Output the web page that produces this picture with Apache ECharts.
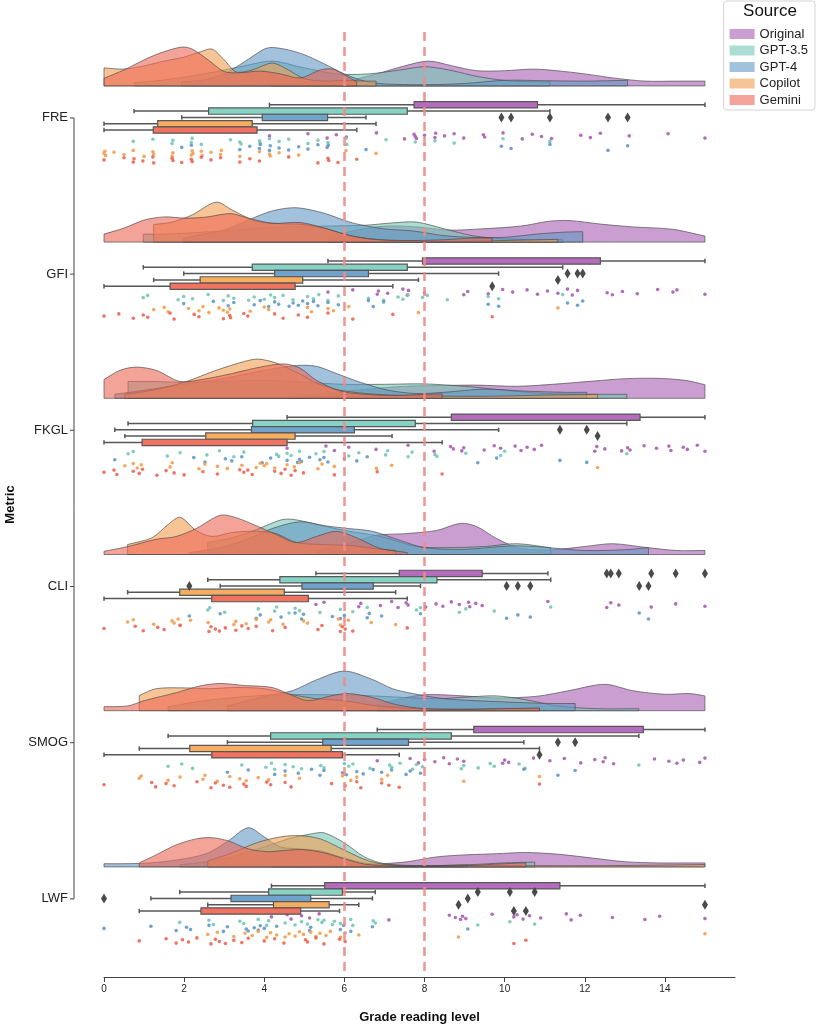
<!DOCTYPE html>
<html>
<head>
<meta charset="utf-8">
<title>Grade reading level by metric and source</title>
<script src="https://cdn.jsdelivr.net/npm/echarts@6.0.0/dist/echarts.min.js"></script>
<style>
  html, body { margin: 0; padding: 0; background: #fff; }
  #chart { width: 818px; height: 1024px; }
</style>
</head>
<body>
<div id="chart"></div>
<script>
const metrics = ['FRE', 'GFI', 'FKGL', 'CLI', 'SMOG', 'LWF'];
const sources = ['Original', 'GPT-3.5', 'GPT-4', 'Copilot', 'Gemini'];
const xTicks = [0, 2, 4, 6, 8, 10, 12, 14];
const refLines = [6, 8];

// box stats, one row per metric: [low whisker, q1, q3, high whisker]
const boxOriginal = [[4.13, 7.74, 10.82, 15], [5.59, 7.95, 12.39, 15], [4.57, 8.67, 13.38, 15], [5.29, 7.37, 9.44, 11.08], [6.82, 9.23, 13.46, 15], [4.18, 5.51, 11.38, 15]];
const boxGpt35 = [[0.75, 2.61, 7.57, 11.13], [0.98, 3.70, 7.57, 11.45], [0.6, 3.71, 7.77, 13.05], [2.59, 4.39, 8.31, 11.15], [1.6, 4.16, 8.67, 13.35], [1.89, 4.11, 5.95, 6.77]];
const boxGpt4 = [[1.94, 3.95, 5.58, 6.54], [1.99, 4.26, 6.6, 9.85], [0.27, 3.68, 6.25, 9.85], [2.9, 4.94, 6.72, 7.9], [3.08, 5.46, 7.6, 10.48], [1.17, 3.17, 5.16, 6.7]];
const boxCopilot = [[0, 1.34, 3.70, 6.79], [1.24, 2.4, 4.96, 7.85], [0.52, 2.54, 4.77, 7.19], [0.59, 1.89, 4.5, 7.28], [0.88, 2.14, 5.67, 10.87], [2.59, 4.23, 5.62, 6.36]];
const boxGemini = [[0, 1.23, 3.82, 6.31], [0, 1.65, 4.77, 7.21], [0, 0.95, 4.57, 8.44], [0, 2.69, 5.1, 7.57], [0, 2.69, 5.95, 7.37], [0.88, 2.42, 4.91, 5.88]];

// outliers, one list per metric
const outOriginal = [[], [], [], [12.55, 12.65, 12.85, 13.66, 14.27, 15], [], []];
const outGpt35 = [[], [], [], [], [], [9.33, 10.13, 10.75]];
const outGpt4 = [[9.92, 10.16, 11.13, 12.58, 13.07], [11.57, 11.82, 11.95], [11.38, 12.05], [2.13, 10.05, 10.33, 10.64, 13.36, 13.59], [11.33, 11.76], [0, 9.08]];
const outCopilot = [[], [11.33], [12.32], [], [], [8.85, 15]];
const outGemini = [[], [9.69], [], [], [10.87], [10.23, 10.53]];

// individual scores (rain), one list per metric
const ptsOriginal = [
  [4.13, 5.09, 5.57, 5.8, 6.05, 6.8, 7.5, 7.74, 7.77, 7.8, 8.0, 8.26, 8.28, 8.5, 8.74, 8.98, 9.47, 9.5, 9.96, 10.44, 10.69, 10.92, 11.17, 11.9, 12.14, 12.39, 13.11, 14.08, 15],
  [5.59, 6.21, 6.82, 6.85, 7.08, 7.46, 7.57, 7.6, 8.0, 8.98, 9.08, 9.59, 9.95, 10.2, 10.56, 10.82, 11.07, 11.33, 11.57, 11.69, 11.82, 12.56, 12.69, 12.94, 13.31, 13.82, 14.2, 14.3, 15],
  [4.57, 5.54, 5.75, 6.11, 6.79, 7.59, 8.24, 8.65, 8.72, 8.93, 8.98, 9.49, 9.74, 9.9, 10.26, 10.41, 10.56, 10.74, 10.92, 12.25, 12.3, 12.5, 12.92, 13.07, 13.13, 13.48, 13.79, 14.1, 14.15, 14.46, 14.56, 14.81, 15],
  [5.29, 5.49, 6.36, 6.41, 6.9, 7.18, 7.34, 7.54, 7.59, 8.03, 8.29, 8.46, 8.67, 8.87, 9.1, 9.13, 9.28, 9.44, 11.08, 12.55, 12.65, 12.85, 13.66, 14.27, 15],
  [6.82, 7.64, 7.85, 8.0, 8.26, 8.48, 8.62, 8.82, 8.98, 9.95, 10.0, 10.1, 10.72, 11.13, 11.49, 11.9, 12.25, 12.46, 12.51, 12.72, 13.74, 14.1, 14.3, 14.46, 14.87, 15],
  [4.18, 4.57, 4.67, 4.93, 5.13, 5.37, 7.11, 8.62, 8.77, 8.9, 8.95, 9.03, 9.69, 10.23, 10.31, 10.46, 10.62, 10.9, 11.54, 11.66, 11.89, 12.69, 13.5, 13.87, 15]
];
const ptsGpt35 = [
  [0.73, 1.22, 1.7, 1.72, 2.18, 2.2, 2.43, 3.16, 3.39, 3.42, 3.88, 3.9, 4.13, 4.37, 4.61, 5.09, 5.34, 5.59, 6.04, 6.06, 7.04, 7.77, 8.0, 8.26, 8.74, 9.96, 11.13],
  [0.98, 1.09, 1.85, 1.99, 2.21, 2.6, 2.98, 3.1, 3.24, 3.61, 3.75, 4.0, 4.16, 4.26, 4.47, 4.72, 5.08, 5.23, 5.36, 5.59, 5.85, 6.6, 6.98, 7.34, 7.46, 7.59, 7.95, 8.07, 8.57, 9.59, 9.85, 11.45],
  [0.6, 0.73, 1.58, 1.9, 2.57, 2.88, 3.24, 3.49, 4.31, 4.36, 4.57, 4.67, 4.88, 5.29, 5.49, 6.11, 6.36, 7.03, 7.08, 7.59, 7.69, 8.26, 8.31, 9.03, 9.9, 10.0, 13.05],
  [2.59, 2.64, 3.01, 3.85, 4.26, 4.31, 4.62, 4.77, 4.88, 5.39, 5.9, 6.21, 6.57, 7.8, 7.9, 8.87, 9.03, 9.74, 11.15],
  [1.6, 1.94, 2.21, 3.44, 4.04, 4.18, 4.26, 4.52, 4.72, 4.93, 5.41, 5.49, 6.0, 6.11, 6.21, 6.64, 7.13, 7.18, 7.39, 7.7, 7.8, 7.95, 8.92, 8.98, 9.34, 9.64, 9.74, 10.36, 10.51, 13.35],
  [1.89, 2.62, 2.73, 3.39, 3.49, 3.85, 4.06, 4.11, 4.52, 4.77, 4.93, 5.08, 5.34, 5.44, 5.49, 5.7, 5.75, 5.9, 6.16, 6.21, 6.72, 6.77, 9.33, 10.13, 10.75]
];
const ptsGpt4 = [
  [1.94, 2.18, 3.39, 3.64, 3.88, 3.9, 4.13, 4.15, 4.37, 4.61, 4.86, 5.09, 5.34, 5.57, 5.6, 6.54, 9.92, 10.16, 11.13, 12.58, 13.07],
  [1.99, 2.73, 3.1, 3.24, 3.75, 3.9, 4.11, 4.26, 4.36, 4.62, 4.72, 4.85, 4.96, 5.08, 5.23, 5.34, 5.59, 5.85, 6.6, 6.72, 6.98, 9.59, 9.85, 11.57, 11.82, 11.95],
  [0.27, 2.24, 2.52, 3.03, 3.19, 3.44, 3.95, 4.16, 4.57, 4.83, 4.88, 4.93, 5.13, 5.39, 5.49, 5.59, 6.0, 6.31, 6.57, 9.33, 9.8, 11.38, 12.05],
  [2.13, 2.9, 3.8, 3.9, 4.42, 4.77, 4.93, 4.98, 5.7, 5.9, 6.0, 6.57, 6.62, 6.93, 7.9, 10.05, 10.33, 10.64, 13.36, 13.59],
  [3.08, 3.6, 4.26, 4.52, 4.85, 5.18, 5.39, 5.49, 5.95, 6.05, 6.31, 6.47, 6.72, 6.93, 7.18, 7.54, 7.64, 7.9, 10.48, 11.33, 11.76],
  [0, 1.17, 1.8, 2.06, 2.16, 2.62, 2.98, 3.08, 3.55, 3.6, 3.75, 3.85, 3.9, 4.0, 4.31, 5.13, 5.16, 5.9, 5.98, 6.16, 6.7, 9.08]
];
const ptsCopilot = [
  [0, 0.02, 0.04, 0.25, 0.5, 0.73, 1.0, 1.22, 1.24, 1.7, 1.72, 2.18, 2.2, 2.22, 2.43, 2.45, 2.67, 2.91, 2.93, 3.39, 3.88, 4.13, 4.15, 4.37, 4.86, 6.04, 6.79],
  [1.24, 1.5, 1.6, 2.11, 2.37, 2.47, 2.62, 2.87, 2.98, 3.08, 3.14, 3.65, 4.0, 4.11, 5.08, 5.18, 5.59, 5.73, 6.11, 7.85, 11.33],
  [0.52, 0.73, 0.83, 0.93, 1.65, 1.7, 2.37, 2.52, 2.83, 3.08, 3.44, 3.8, 3.9, 4.0, 4.06, 4.26, 4.57, 4.75, 4.88, 5.34, 5.44, 5.75, 6.8, 7.18, 12.32],
  [0.59, 0.73, 1.24, 1.7, 1.75, 1.85, 1.9, 2.16, 2.6, 3.24, 3.29, 3.55, 3.8, 4.11, 4.16, 4.47, 4.98, 5.08, 5.85, 5.9, 6.1, 6.67, 7.28],
  [0.88, 0.93, 1.6, 1.9, 2.47, 2.52, 2.83, 3.14, 3.39, 3.55, 3.85, 4.11, 4.52, 4.88, 5.95, 6.16, 6.31, 6.93, 7.08, 8.98, 10.87],
  [2.59, 2.83, 3.24, 3.52, 3.7, 3.85, 4.06, 4.16, 4.31, 4.52, 4.62, 4.77, 4.88, 4.98, 5.16, 5.29, 5.39, 5.54, 5.65, 5.9, 6.02, 6.36, 8.85, 15]
];
const ptsGemini = [
  [0, 0.5, 0.73, 0.75, 0.97, 1.22, 1.24, 1.7, 1.72, 1.94, 2.18, 2.2, 2.43, 2.67, 2.91, 3.39, 3.64, 3.88, 4.61, 5.34, 5.59, 5.61, 5.84, 6.31],
  [0, 0.37, 0.73, 0.98, 1.09, 1.65, 1.75, 2.25, 2.37, 2.98, 3.14, 3.16, 3.49, 3.59, 4.26, 4.47, 4.85, 5.08, 5.59, 6.21, 7.21, 9.69],
  [0, 0.25, 0.32, 0.73, 0.88, 0.96, 1.32, 1.55, 1.75, 2.0, 2.47, 2.83, 3.39, 3.49, 3.59, 3.7, 4.26, 4.42, 4.52, 4.67, 4.77, 4.98, 5.75, 6.82, 8.44],
  [0, 0.78, 0.98, 1.34, 1.5, 1.9, 2.62, 2.67, 2.78, 2.88, 3.03, 3.29, 3.44, 3.6, 3.8, 4.21, 4.52, 5.34, 5.44, 5.9, 5.95, 6.02, 6.21, 7.57],
  [0, 1.19, 1.29, 1.55, 1.75, 2.32, 2.67, 2.78, 2.98, 3.14, 3.49, 3.55, 4.06, 4.16, 4.52, 4.67, 5.68, 6.02, 6.31, 6.41, 6.93, 7.11, 7.37, 10.87],
  [0.88, 1.55, 1.8, 1.96, 2.11, 2.32, 2.67, 2.78, 2.88, 3.03, 3.24, 3.44, 3.6, 4.0, 4.26, 4.49, 5.03, 5.08, 5.29, 5.49, 5.88, 6.02, 10.23, 10.53]
];

// density outline (cloud), one list per metric: [grade, relative density]
const kdeOriginal = [
  [[4.13, 0.05], [5, 0.08], [6, 0.12], [6.8, 0.3], [7.5, 0.5], [8.1, 0.62], [8.7, 0.5], [9.3, 0.38], [10, 0.38], [10.7, 0.42], [11.3, 0.38], [12, 0.3], [12.7, 0.2], [13.5, 0.12], [14.3, 0.12], [15, 0.12]],
  [[5.59, 0.12], [6.2, 0.28], [7.0, 0.4], [7.8, 0.38], [8.6, 0.3], [9.4, 0.33], [10.4, 0.4], [11.1, 0.52], [11.6, 0.54], [12.4, 0.45], [13.2, 0.38], [14.2, 0.32], [15, 0.15]],
  [[4.57, 0.05], [5.5, 0.12], [6.5, 0.22], [7.5, 0.3], [8.5, 0.32], [9.3, 0.33], [10.3, 0.3], [11.2, 0.35], [12.2, 0.43], [13.0, 0.49], [13.8, 0.5], [14.5, 0.45], [15, 0.34]],
  [[5.29, 0.1], [6.0, 0.25], [6.8, 0.48], [7.5, 0.52], [8.3, 0.6], [8.9, 0.78], [9.3, 0.7], [9.8, 0.4], [10.4, 0.15], [11.2, 0.12], [12.0, 0.2], [12.7, 0.27], [13.5, 0.18], [14.3, 0.1], [15, 0.1]],
  [[6.82, 0.15], [7.4, 0.3], [8.0, 0.4], [8.8, 0.38], [9.8, 0.32], [10.8, 0.36], [11.6, 0.5], [12.5, 0.66], [13.2, 0.5], [14.0, 0.41], [14.6, 0.43], [15, 0.37]],
  [[4.18, 0.02], [5.5, 0.04], [6.5, 0.06], [7.5, 0.12], [8.3, 0.25], [9.0, 0.3], [9.8, 0.33], [10.5, 0.36], [11.3, 0.32], [12.2, 0.22], [13.0, 0.13], [13.8, 0.1], [14.5, 0.1], [15, 0.1]]
];
const kdeGpt35 = [
  [[0.75, 0.08], [1.5, 0.15], [2.5, 0.3], [3.5, 0.5], [4.2, 0.62], [5.0, 0.45], [5.8, 0.3], [6.6, 0.3], [7.4, 0.4], [8.0, 0.48], [8.6, 0.4], [9.4, 0.22], [10.2, 0.12], [11.13, 0.1]],
  [[0.98, 0.2], [1.5, 0.2], [2.5, 0.25], [3.5, 0.32], [4.5, 0.38], [5.5, 0.4], [6.5, 0.42], [7.2, 0.48], [7.8, 0.5], [8.5, 0.33], [9.2, 0.16], [10, 0.08], [10.8, 0.06], [11.45, 0.06]],
  [[0.6, 0.42], [1.2, 0.42], [2.0, 0.4], [3.0, 0.42], [4.0, 0.45], [5.0, 0.4], [6.0, 0.35], [7.0, 0.35], [8.0, 0.36], [9.0, 0.3], [10, 0.2], [11, 0.12], [12, 0.1], [13.05, 0.1]],
  [[2.59, 0.3], [3.2, 0.42], [3.8, 0.62], [4.4, 0.86], [4.7, 0.88], [5.2, 0.78], [5.9, 0.62], [6.9, 0.45], [7.8, 0.2], [8.5, 0.17], [9.5, 0.2], [10.3, 0.27], [11.15, 0.17]],
  [[1.6, 0.1], [2.5, 0.25], [3.5, 0.35], [4.5, 0.4], [5.5, 0.4], [6.5, 0.38], [7.5, 0.33], [8.3, 0.3], [9.2, 0.35], [9.8, 0.37], [10.5, 0.28], [11.3, 0.12], [12.3, 0.05], [13.35, 0.05]],
  [[1.89, 0.05], [2.5, 0.12], [3.2, 0.25], [4.0, 0.5], [4.6, 0.7], [5.2, 0.83], [5.5, 0.85], [6.0, 0.6], [6.5, 0.25], [7.0, 0.08], [8.0, 0.03], [9.0, 0.05], [10.0, 0.1], [10.75, 0.12]]
];
const kdeGpt4 = [
  [[1.94, 0.1], [2.5, 0.15], [3.0, 0.3], [3.5, 0.6], [4.0, 0.92], [4.2, 0.96], [4.6, 0.9], [5.0, 0.78], [5.5, 0.55], [6.0, 0.3], [6.5, 0.12], [7.0, 0.05], [8, 0.03], [9, 0.06], [10, 0.14], [11, 0.13], [12, 0.12], [13.07, 0.14]],
  [[1.99, 0.1], [2.5, 0.2], [3.0, 0.3], [3.6, 0.55], [4.2, 0.78], [4.8, 0.86], [5.5, 0.72], [6.2, 0.48], [7.0, 0.33], [7.7, 0.28], [8.5, 0.16], [9.2, 0.12], [10, 0.12], [10.8, 0.2], [11.5, 0.25], [11.95, 0.26]],
  [[0.27, 0.1], [1.0, 0.2], [2.0, 0.35], [3.0, 0.5], [4.0, 0.7], [4.8, 0.82], [5.3, 0.8], [5.8, 0.62], [6.4, 0.4], [7.1, 0.2], [7.8, 0.12], [8.5, 0.15], [9.5, 0.23], [10.5, 0.18], [11.5, 0.15], [12.05, 0.15]],
  [[2.13, 0.05], [2.8, 0.15], [3.5, 0.35], [4.2, 0.65], [4.9, 0.82], [5.5, 0.72], [6.1, 0.65], [6.7, 0.58], [7.4, 0.35], [8.0, 0.17], [9.0, 0.13], [10.2, 0.22], [11.0, 0.18], [12.0, 0.1], [13.0, 0.12], [13.59, 0.17]],
  [[3.08, 0.12], [3.6, 0.25], [4.1, 0.38], [4.7, 0.5], [5.3, 0.77], [6.0, 0.99], [6.7, 0.78], [7.2, 0.55], [7.7, 0.43], [8.5, 0.3], [9.5, 0.24], [10.5, 0.2], [11.2, 0.18], [11.76, 0.18]],
  [[0, 0.08], [0.5, 0.08], [1.17, 0.1], [2.0, 0.2], [2.6, 0.35], [3.1, 0.65], [3.6, 0.98], [4.0, 0.75], [4.4, 0.5], [4.9, 0.45], [5.4, 0.4], [5.9, 0.25], [6.5, 0.1], [7.2, 0.04], [8.0, 0.03], [9.08, 0.05]]
];
const kdeCopilot = [
  [[0, 0.45], [0.5, 0.42], [1.0, 0.5], [1.5, 0.62], [2.0, 0.72], [2.4, 0.85], [2.7, 0.92], [3.0, 0.65], [3.3, 0.35], [3.7, 0.4], [4.2, 0.57], [4.6, 0.4], [5.0, 0.18], [5.5, 0.12], [6.0, 0.14], [6.5, 0.12], [6.79, 0.12]],
  [[1.24, 0.44], [1.7, 0.5], [2.2, 0.68], [2.8, 1.0], [3.2, 0.8], [3.8, 0.52], [4.4, 0.46], [5.0, 0.44], [5.6, 0.32], [6.2, 0.15], [7.0, 0.05], [8.0, 0.02], [9.0, 0.02], [10, 0.04], [11.33, 0.07]],
  [[0.52, 0.1], [1.2, 0.2], [2.0, 0.4], [2.8, 0.7], [3.5, 0.92], [3.85, 0.98], [4.3, 0.88], [4.9, 0.6], [5.3, 0.38], [5.9, 0.2], [6.8, 0.1], [8, 0.06], [9.5, 0.05], [11, 0.08], [12.32, 0.1]],
  [[0.59, 0.25], [1.2, 0.42], [1.6, 0.75], [1.9, 0.93], [2.3, 0.6], [2.7, 0.45], [3.2, 0.55], [3.8, 0.58], [4.3, 0.52], [4.8, 0.3], [5.4, 0.25], [6.2, 0.22], [6.8, 0.14], [7.28, 0.1]],
  [[0.88, 0.38], [1.3, 0.55], [2.0, 0.57], [2.6, 0.55], [3.3, 0.58], [4.0, 0.55], [4.7, 0.4], [5.3, 0.3], [6.0, 0.25], [6.8, 0.12], [7.8, 0.05], [9.0, 0.04], [10.0, 0.05], [10.87, 0.05]],
  [[2.59, 0.15], [3.2, 0.35], [3.8, 0.6], [4.4, 0.75], [4.9, 0.78], [5.4, 0.7], [6.0, 0.42], [6.6, 0.15], [7.2, 0.04], [8.0, 0.02], [9.0, 0.03], [10.5, 0.03], [12, 0.03], [13.5, 0.04], [15, 0.06]]
];
const kdeGemini = [
  [[0, 0.19], [0.5, 0.4], [1.0, 0.65], [1.4, 0.82], [1.94, 0.97], [2.2, 0.92], [2.6, 0.65], [3.0, 0.36], [3.4, 0.33], [3.9, 0.37], [4.4, 0.3], [4.9, 0.2], [5.4, 0.4], [5.7, 0.42], [6.0, 0.28], [6.31, 0.1]],
  [[0, 0.2], [0.5, 0.35], [1.0, 0.55], [1.5, 0.63], [2.0, 0.6], [2.5, 0.62], [3.0, 0.7], [3.2, 0.71], [3.6, 0.6], [4.2, 0.47], [4.9, 0.49], [5.5, 0.35], [6.0, 0.2], [6.6, 0.08], [7.5, 0.04], [8.5, 0.06], [9.2, 0.1], [9.69, 0.1]],
  [[0, 0.47], [0.4, 0.7], [0.8, 0.78], [1.3, 0.7], [1.9, 0.42], [2.5, 0.48], [3.2, 0.62], [3.9, 0.78], [4.5, 0.86], [4.9, 0.75], [5.3, 0.45], [5.9, 0.18], [6.5, 0.1], [7.2, 0.07], [8.0, 0.1], [8.44, 0.11]],
  [[0, 0.08], [0.6, 0.2], [1.3, 0.38], [1.8, 0.45], [2.3, 0.65], [2.9, 0.98], [3.3, 0.92], [3.8, 0.72], [4.3, 0.5], [4.8, 0.3], [5.3, 0.45], [5.8, 0.58], [6.3, 0.42], [6.9, 0.15], [7.57, 0.05]],
  [[0, 0.1], [0.6, 0.12], [1.0, 0.25], [1.8, 0.45], [2.4, 0.62], [2.9, 0.68], [3.5, 0.63], [4.2, 0.58], [4.7, 0.38], [5.1, 0.25], [5.7, 0.38], [6.1, 0.43], [6.7, 0.33], [7.3, 0.15], [8.0, 0.05], [9.0, 0.03], [10.0, 0.05], [10.87, 0.07]],
  [[0.88, 0.1], [1.3, 0.3], [1.8, 0.55], [2.3, 0.7], [2.7, 0.73], [3.1, 0.65], [3.6, 0.45], [4.1, 0.38], [4.6, 0.42], [5.0, 0.43], [5.5, 0.35], [6.0, 0.2], [6.5, 0.07], [7.2, 0.02], [8, 0.01], [9, 0.03], [10, 0.08], [10.53, 0.1]]
];

const boxes = [boxOriginal, boxGpt35, boxGpt4, boxCopilot, boxGemini];
const outliers = [outOriginal, outGpt35, outGpt4, outCopilot, outGemini];
const points = [ptsOriginal, ptsGpt35, ptsGpt4, ptsCopilot, ptsGemini];
const kdes = [kdeOriginal, kdeGpt35, kdeGpt4, kdeCopilot, kdeGemini];

// look
const colors = ['#a75eb1', '#74c6b6', '#6298c5', '#f29f4f', '#ec6555'];
const boxColors = ['#b56cbc', '#86d2c4', '#70a3cc', '#f7ad60', '#f07260'];
const FONT = '"Liberation Sans", Arial, sans-serif';
const VIOLIN_H = 40;      // px for relative density 1
const VIOLIN_GAP = 32;    // px from metric line up to cloud baseline
const BOX_H = 6.3;
const BOX_STEP = 6.3;
const STRIP_OFF = [18, 23.5, 29.5, 35.5, 42];
const JITTER = [0, -2.2, 2.2, -1.1, 1.1, -3, 3, -1.7, 0.6, 2.6, -0.6, 1.7, -2.6];
const SPINE_OFFSET = 30;
const EDGE = '#575757';

function fade(hex, a) {
  const n = parseInt(hex.slice(1), 16);
  return `rgba(${n >> 16},${(n >> 8) & 255},${n & 255},${a})`;
}

function violinSeries(si) {
  const prof = kdes[si];
  return {
    type: 'custom', name: sources[si], z: 2, silent: true,
    data: metrics.map((m, mi) => [prof[mi][0][0], mi]),
    renderItem(params, api) {
      const mi = params.dataIndex;
      const base = api.coord([0, mi])[1] - VIOLIN_GAP;
      const top = prof[mi].map(p => [api.coord([p[0], mi])[0], base - p[1] * VIOLIN_H]);
      const a = top[0], b = top[top.length - 1];
      const poly = [[a[0], base], [a[0], base], a, a]
        .concat(top.slice(1, -1))
        .concat([b, b, [b[0], base], [b[0], base]]);
      return {
        type: 'polygon',
        shape: { points: poly, smooth: 0.3 },
        style: { fill: fade(colors[si], 0.6), stroke: 'rgba(75,75,75,0.75)', lineWidth: 0.9 }
      };
    }
  };
}

function boxSeries(si) {
  return {
    type: 'custom', name: sources[si], z: 4, silent: true,
    data: boxes[si].map((b, mi) => [mi].concat(b)),
    renderItem(params, api) {
      const mi = api.value(0);
      const yc = api.coord([0, mi])[1] + (si - 2) * BOX_STEP - 0.5;
      const x = [1, 2, 3, 4].map(d => api.coord([api.value(d), mi])[0]);
      const line = { stroke: EDGE, lineWidth: 1.5 };
      return {
        type: 'group',
        children: [
          { type: 'line', shape: { x1: x[0], y1: yc, x2: x[3], y2: yc }, style: line },
          { type: 'line', shape: { x1: x[0], y1: yc - 2.2, x2: x[0], y2: yc + 2.2 }, style: line },
          { type: 'line', shape: { x1: x[3], y1: yc - 2.2, x2: x[3], y2: yc + 2.2 }, style: line },
          { type: 'rect', shape: { x: x[1], y: yc - BOX_H / 2, width: x[2] - x[1], height: BOX_H },
            style: { fill: boxColors[si], stroke: EDGE, lineWidth: 1.2 } }
        ]
      };
    }
  };
}

function stripSeries(si) {
  const data = [];
  points[si].forEach((list, mi) => list.forEach((v, k) => data.push([v, mi, k])));
  return {
    type: 'custom', name: sources[si], z: 3, silent: true,
    data,
    renderItem(params, api) {
      const p = api.coord([api.value(0), api.value(1)]);
      const k = api.value(2);
      return {
        type: 'circle',
        shape: { cx: p[0], cy: p[1] + STRIP_OFF[si] + JITTER[k % JITTER.length], r: 1.8 },
        style: { fill: colors[si], opacity: 0.9 }
      };
    }
  };
}

function outlierSeries(si) {
  const data = [];
  outliers[si].forEach((list, mi) => list.forEach(v => data.push([v, mi])));
  return {
    type: 'custom', name: sources[si], z: 5, silent: true,
    data,
    renderItem(params, api) {
      const p = api.coord([api.value(0), api.value(1)]);
      const y = p[1] + (si - 2) * BOX_STEP - 0.5;
      return {
        type: 'polygon',
        shape: { points: [[p[0], y - 5], [p[0] + 3, y], [p[0], y + 5], [p[0] - 3, y]] },
        style: { fill: '#4a4a4a' }
      };
    }
  };
}

// trimmed y spine with its ticks, offset left, plus the grade 6 / 8 guide lines
const spineSeries = {
  type: 'custom', z: 10, silent: true,
  data: [[0, 0]],
  renderItem(params, api) {
    const a = api.coord([0, 0]);
    const b = api.coord([0, metrics.length - 1]);
    const x = a[0] - SPINE_OFFSET;
    const style = { stroke: '#444', lineWidth: 1 };
    const children = [{ type: 'line', shape: { x1: x, y1: a[1], x2: x, y2: b[1] }, style }];
    metrics.forEach((m, mi) => {
      const y = api.coord([0, mi])[1];
      children.push({ type: 'line', shape: { x1: x - 4, y1: y, x2: x, y2: y }, style });
    });
    return { type: 'group', children };
  },
  markLine: {
    silent: true,
    symbol: ['none', 'none'],
    label: { show: false },
    lineStyle: { color: '#ef8c8c', width: 2.6, type: [9, 6], opacity: 0.9 },
    data: refLines.map(v => ({ xAxis: v }))
  }
};

const series = [];
for (let si = 0; si < sources.length; si++) series.push(violinSeries(si));
for (let si = 0; si < sources.length; si++) series.push(stripSeries(si));
for (let si = 0; si < sources.length; si++) series.push(boxSeries(si));
for (let si = 0; si < sources.length; si++) series.push(outlierSeries(si));
series.push(spineSeries);

const chart = echarts.init(document.getElementById('chart'));
chart.setOption({
  animation: false,
  textStyle: { fontFamily: FONT },
  grid: { left: 104, right: 83, top: 32, bottom: 47, containLabel: false, outerBoundsMode: 'none' },
  xAxis: {
    type: 'value', min: 0, max: 15.75, interval: 2,
    axisLine: { onZero: false, lineStyle: { color: '#444', width: 1 } },
    axisTick: { customValues: xTicks, length: 5, lineStyle: { color: '#444' } },
    axisLabel: {
      customValues: xTicks, fontSize: 10, color: '#222', margin: 7,
      formatter: v => (xTicks.indexOf(v) >= 0 ? String(v) : '')
    },
    splitLine: { show: false },
    name: 'Grade reading level', nameLocation: 'middle', nameGap: 34,
    nameTextStyle: { fontWeight: 'bold', fontSize: 13, color: '#111', fontFamily: FONT }
  },
  yAxis: {
    type: 'value', inverse: true, min: -0.55, max: 5.5, offset: SPINE_OFFSET,
    axisLine: { show: false, onZero: false },
    axisTick: { show: false },
    axisLabel: {
      customValues: [0, 1, 2, 3, 4, 5], fontSize: 13, color: '#222', margin: 6,
      formatter: v => (Number.isInteger(v) && metrics[v]) ? metrics[v] : ''
    },
    splitLine: { show: false },
    name: 'Metric', nameLocation: 'middle', nameGap: 57,
    nameTextStyle: { fontWeight: 'bold', fontSize: 13, color: '#111', fontFamily: FONT }
  },
  legend: {
    data: sources.map((s, i) => ({ name: s, itemStyle: { color: fade(colors[i], 0.6) } })),
    orient: 'vertical', right: 3, top: 1,
    icon: 'rect', itemWidth: 25, itemHeight: 10, itemGap: 2.5,
    textStyle: { fontSize: 13, color: '#222', lineHeight: 14, fontFamily: FONT },
    borderColor: '#d4d4d4', borderWidth: 1, borderRadius: 3,
    padding: [26, 7, 3, 6],
    selectedMode: false
  },
  graphic: [{
    type: 'text', x: 770, y: 3, z: 100,
    style: { text: 'Source', fontSize: 17, fill: '#111', textAlign: 'center', fontFamily: FONT }
  }],
  series
});
</script>
</body>
</html>
